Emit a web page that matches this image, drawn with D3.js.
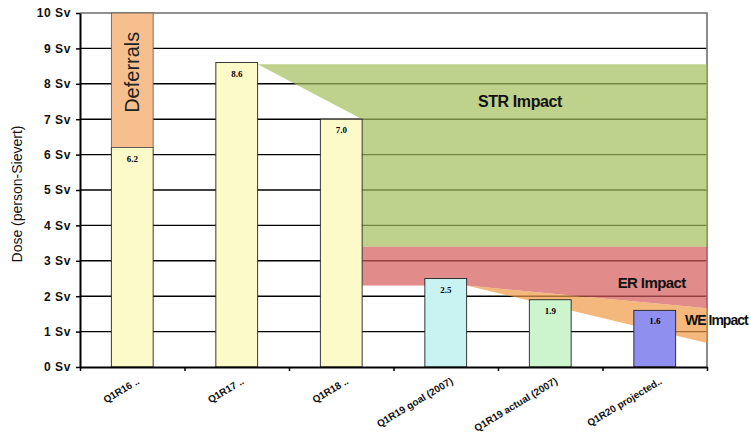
<!DOCTYPE html>
<html>
<head>
<meta charset="utf-8">
<script src="https://cdn.jsdelivr.net/npm/d3@7"></script>
<style>
  body { margin: 0; background: #fff; }
  svg { display: block; font-family: Arial, "Liberation Sans", sans-serif; }
</style>
</head>
<body>
<svg id="chart" width="751" height="434"></svg>
<script>
// Collective dose per outage
const categories = ["Q1R16 ..", "Q1R17 ..", "Q1R18 ..", "Q1R19 goal (2007)", "Q1R19 actual (2007)", "Q1R20 projected.."];
const doseValues = [6.2, 8.6, 7.0, 2.5, 1.9, 1.6];
const deferralValues = [3.8, 0, 0, 0, 0, 0];
const yTickValues = [0, 1, 2, 3, 4, 5, 6, 7, 8, 9, 10];
const yTickLabels = ["0 Sv", "1 Sv", "2 Sv", "3 Sv", "4 Sv", "5 Sv", "6 Sv", "7 Sv", "8 Sv", "9 Sv", "10 Sv"];

// Impact bands: [position along the category axis, dose]
const strImpact = [[1.7, 8.55], [6, 8.55], [6, 3.4], [2.7, 3.4], [2.7, 7.0]];
const erImpact = [[2.7, 3.4], [6, 3.4], [6, 1.66], [3.7, 2.3], [2.7, 2.3]];
const weImpact = [[3.7, 2.3], [6, 1.66], [6, 0.68]];

const impactLabels = ["STR Impact", "ER Impact", "WE Impact"];

// ---- styling ----
const barFill = ["#fcfac8", "#fcfac8", "#fcfac8", "#c9f3f3", "#cdf5cd", "#8f8ff0"];
const deferralFill = "#f8bf8e";
const bandFill = { str: "#a2bf5b", er: "#d45a5a", we: "#f09a45" };

const svg = d3.select("#chart");
const L = 80, R = 707, T = 13, B = 367;

const x = d3.scaleBand().domain(categories).range([L, R]).paddingInner(0.6).paddingOuter(0.3);
const xu = d3.scaleLinear().domain([0, categories.length]).range([L, R]);
const y = d3.scaleLinear().domain([0, 10]).range([B, T]);

// gridlines
svg.append("g").selectAll("line")
  .data(yTickValues.filter(v => v > 0 && v < 10))
  .join("line")
  .attr("x1", L).attr("x2", R)
  .attr("y1", d => y(d)).attr("y2", d => y(d))
  .attr("stroke", "#000").attr("stroke-width", 1.4);

// plot frame (top and right)
svg.append("path")
  .attr("d", `M${L},${y(10)}H${R}V${B}`)
  .attr("fill", "none").attr("stroke", "#6e6e6e").attr("stroke-width", 1.6);

// impact bands
const area = d3.line().x(d => xu(d[0])).y(d => y(d[1]));
[[strImpact, bandFill.str], [erImpact, bandFill.er], [weImpact, bandFill.we]].forEach(([pts, c]) => {
  svg.append("path").attr("d", area(pts) + "Z").attr("fill", c).attr("fill-opacity", 0.7);
});

// bars
const bars = svg.append("g");
bars.selectAll("rect.dose")
  .data(categories)
  .join("rect")
  .attr("class", "dose")
  .attr("x", d => x(d))
  .attr("width", x.bandwidth())
  .attr("y", (d, i) => y(doseValues[i]))
  .attr("height", (d, i) => y(0) - y(doseValues[i]))
  .attr("fill", (d, i) => barFill[i])
  .attr("stroke", "#222").attr("stroke-width", 0.9);

bars.selectAll("rect.deferral")
  .data(categories.filter((d, i) => deferralValues[i] > 0))
  .join("rect")
  .attr("class", "deferral")
  .attr("x", d => x(d))
  .attr("width", x.bandwidth())
  .attr("y", d => { const i = categories.indexOf(d); return y(doseValues[i] + deferralValues[i]); })
  .attr("height", d => { const i = categories.indexOf(d); return y(doseValues[i]) - y(doseValues[i] + deferralValues[i]); })
  .attr("fill", deferralFill)
  .attr("stroke", "#555").attr("stroke-width", 0.8);

// value labels
bars.selectAll("text.val")
  .data(categories)
  .join("text")
  .attr("class", "val")
  .attr("x", d => x(d) + x.bandwidth() / 2)
  .attr("y", (d, i) => y(doseValues[i]) + 14)
  .attr("text-anchor", "middle")
  .attr("font-family", "'Liberation Serif', serif")
  .attr("font-weight", "bold")
  .attr("font-size", 9)
  .text((d, i) => doseValues[i].toFixed(1));

// deferral label
categories.forEach((c, i) => {
  if (deferralValues[i] > 0) {
    const cx = x(c) + x.bandwidth() / 2;
    const cy = y(doseValues[i] + deferralValues[i] / 2) - 8;
    svg.append("text")
      .attr("transform", `translate(${cx},${cy}) rotate(-90)`)
      .attr("text-anchor", "middle").attr("dy", "0.35em")
      .attr("font-size", 20).attr("fill", "#222")
      .text("Deferrals");
  }
});

// impact labels
const lbl = (t, px, v, anchor, size, ls) => svg.append("text")
  .attr("x", xu(px)).attr("y", y(v)).attr("dy", "0.35em")
  .attr("text-anchor", anchor)
  .attr("font-weight", "bold").attr("font-size", size).attr("letter-spacing", ls)
  .attr("fill", "#111").text(t);
lbl(impactLabels[0], 4.21, 7.5, "middle", 16, -0.4);
lbl(impactLabels[1], 5.47, 2.37, "middle", 15, -0.6);
lbl(impactLabels[2], 5.79, 1.33, "start", 14, -1);

// y axis
const yAxis = svg.append("g").attr("transform", `translate(${L},0)`)
  .call(d3.axisLeft(y).tickValues(yTickValues).tickFormat((d, i) => yTickLabels[i]).tickSize(4).tickSizeOuter(0).tickPadding(5));
yAxis.select(".domain").attr("stroke", "#000").attr("stroke-width", 2);
yAxis.selectAll(".tick line").attr("stroke", "#000").attr("stroke-width", 1.5);
yAxis.selectAll(".tick text").attr("font-family", "Arial, 'Liberation Sans', sans-serif")
  .attr("font-size", 12).attr("font-weight", "bold").attr("letter-spacing", 0.6).attr("fill", "#111");

// x axis (ticks at category boundaries)
const xAxis = svg.append("g").attr("transform", `translate(0,${B})`)
  .call(d3.axisBottom(xu).tickValues(d3.range(0, categories.length + 1)).tickFormat("").tickSize(4).tickSizeOuter(0));
xAxis.select(".domain").attr("stroke", "#000").attr("stroke-width", 2);
xAxis.selectAll(".tick line").attr("stroke", "#000").attr("stroke-width", 1.5);

// category labels
svg.append("g").selectAll("text")
  .data(categories)
  .join("text")
  .attr("transform", d => `translate(${x(d) + x.bandwidth() / 2 + 8},${B + 16}) rotate(-31)`)
  .attr("text-anchor", "end")
  .attr("font-size", 10).attr("font-weight", "bold").attr("fill", "#111")
  .text(d => d);

// y axis title
svg.append("text")
  .attr("transform", `translate(22,${(T + B) / 2 + 4}) rotate(-90)`)
  .attr("text-anchor", "middle")
  .attr("font-size", 14).attr("fill", "#111")
  .text("Dose (person-Sievert)");
</script>
</body>
</html>
